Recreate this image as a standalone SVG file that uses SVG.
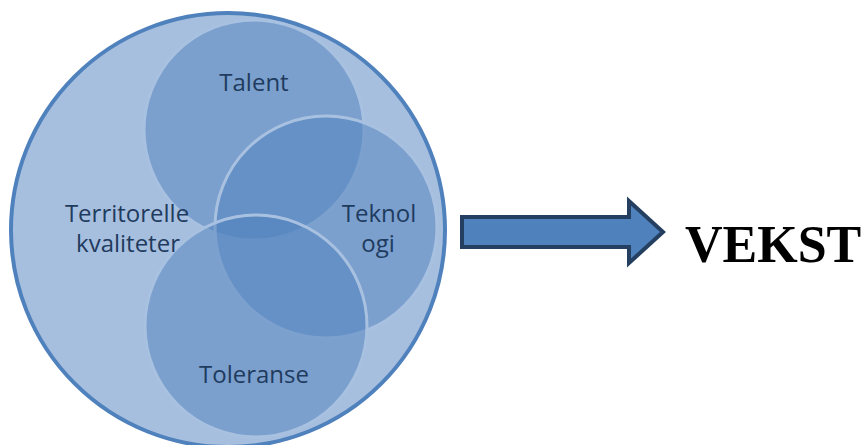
<svg xmlns="http://www.w3.org/2000/svg" width="866" height="445" viewBox="0 0 866 445">
<style>
.sub{fill:#4f81bd;fill-opacity:0.5;stroke:#a9c1e0;stroke-width:3}
.lbl{font-family:"Open Sans","Noto Sans",sans-serif;font-size:24px;fill:#1f3b5e;text-anchor:middle}
</style>
<rect width="866" height="445" fill="#ffffff"/>
<g id="territorelle">
<circle cx="228" cy="230" r="217" fill="#a7bfdf" stroke="#4f81bd" stroke-width="4"/>
</g>
<g id="talent">
<circle class="sub" cx="254" cy="130" r="110"/>
</g>
<g id="teknologi">
<circle class="sub" cx="326" cy="227" r="111"/>
</g>
<g id="toleranse">
<circle class="sub" cx="256" cy="326" r="111"/>
</g>
<g id="labels">
<text class="lbl" x="254" y="91">Talent</text>
<text class="lbl" x="127" y="222">Territorelle</text>
<text class="lbl" x="128" y="252">kvaliteter</text>
<text class="lbl" x="379" y="222">Teknol</text>
<text class="lbl" x="378" y="252">ogi</text>
<text class="lbl" x="254" y="383">Toleranse</text>
</g>
<g id="connectors">
<polygon points="462,217 629,217 629,201 663,232 629,263 629,247 462,247" fill="#4f81bd" stroke="#243f60" stroke-width="4" stroke-linejoin="miter"/>
</g>
<g id="vekst">
<text x="685" y="262" font-family="'Liberation Serif','Times New Roman',serif" font-weight="bold" font-size="52" fill="#000000">VEKST</text>
</g>
</svg>
